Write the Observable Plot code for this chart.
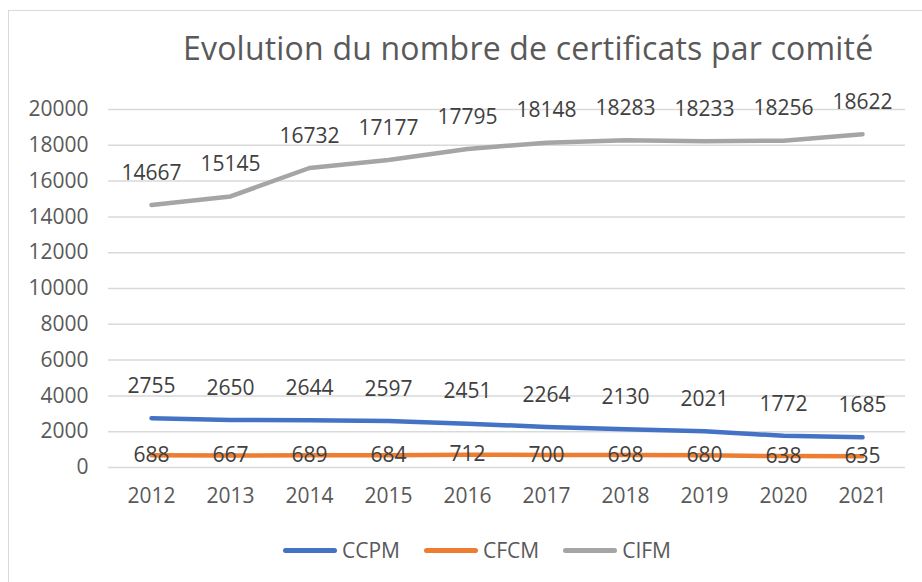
<!DOCTYPE html>
<html><head><meta charset="utf-8">
<script src="https://cdn.jsdelivr.net/npm/d3@7"></script>
<script src="https://cdn.jsdelivr.net/npm/@observablehq/plot@0.6"></script>
<style>
body{margin:0;background:#fff;font-family:"Open Sans",sans-serif;}
#wrap{position:relative;width:922px;height:582px;overflow:hidden;background:#fff;}
#frame{position:absolute;left:8px;top:10px;width:940px;height:600px;border:1.5px solid #d9d9d9;box-sizing:border-box;}
#title{position:absolute;left:183px;top:26px;font-size:32px;color:#595959;white-space:nowrap;letter-spacing:0.2px;}
#chart{position:absolute;left:0;top:80px;}
#legend{position:absolute;top:536px;left:283px;display:flex;gap:24px;font-size:21px;color:#595959;}
.item{display:flex;align-items:center;gap:5px;}
.sw{width:54px;height:5px;border-radius:3px;}
</style></head>
<body><div id="wrap"><div id="frame"></div><div id="title">Evolution du nombre de certificats par comité</div><div id="chart"></div><div id="legend"></div></div>
<script>
const years = ["2012","2013","2014","2015","2016","2017","2018","2019","2020","2021"];
const ccpm = [2755,2650,2644,2597,2451,2264,2130,2021,1772,1685];
const cfcm = [688,667,689,684,712,700,698,680,638,635];
const cifm = [14667,15145,16732,17177,17795,18148,18283,18233,18256,18622];
const seriesNames = ["CCPM","CFCM","CIFM"];
const colors = ["#4472C4","#ED7D31","#A5A5A5"];
const yTicks = [0,2000,4000,6000,8000,10000,12000,14000,16000,18000,20000];

const all = [ccpm,cfcm,cifm];
const data = [];
seriesNames.forEach((s,i)=>years.forEach((y,j)=>data.push({series:s,year:y,value:all[i][j]})));
const labDy = {CCPM:-32,CFCM:0,CIFM:-32};

const plot = Plot.plot({
  width:922,height:450,
  marginLeft:108,marginRight:17,marginTop:29,marginBottom:63,
  style:{fontFamily:"Open Sans, sans-serif",fontSize:"21px",color:"#595959",background:"transparent"},
  x:{type:"point",domain:years,padding:0.5,label:null},
  y:{domain:[0,20000],label:null},
  color:{domain:seriesNames,range:colors},
  marks:[
    Plot.ruleY(yTicks,{stroke:"#d9d9d9",strokeWidth:1.5}),
    Plot.axisY(yTicks,{tickSize:0,tickPadding:20,label:null,fill:"#595959",fontSize:21,tickFormat:d=>String(d)}),
    Plot.axisX({tickSize:0,tickPadding:21,label:null,fill:"#595959",fontSize:21}),
    Plot.line(data,{x:"year",y:"value",z:"series",stroke:"series",strokeWidth:4.5,strokeLinecap:"round",strokeLinejoin:"round"}),
    ...seriesNames.map(s=>Plot.text(data.filter(d=>d.series===s),{x:"year",y:"value",text:d=>String(d.value),dy:labDy[s],fill:"#404040",fontSize:21}))
  ]
});
document.getElementById("chart").appendChild(plot);
const leg = document.getElementById("legend");
seriesNames.forEach((s,i)=>{
  const it=document.createElement("div");it.className="item";
  const sw=document.createElement("div");sw.className="sw";sw.style.background=colors[i];
  const t=document.createElement("span");t.textContent=s;
  it.appendChild(sw);it.appendChild(t);leg.appendChild(it);
});
</script></body></html>
